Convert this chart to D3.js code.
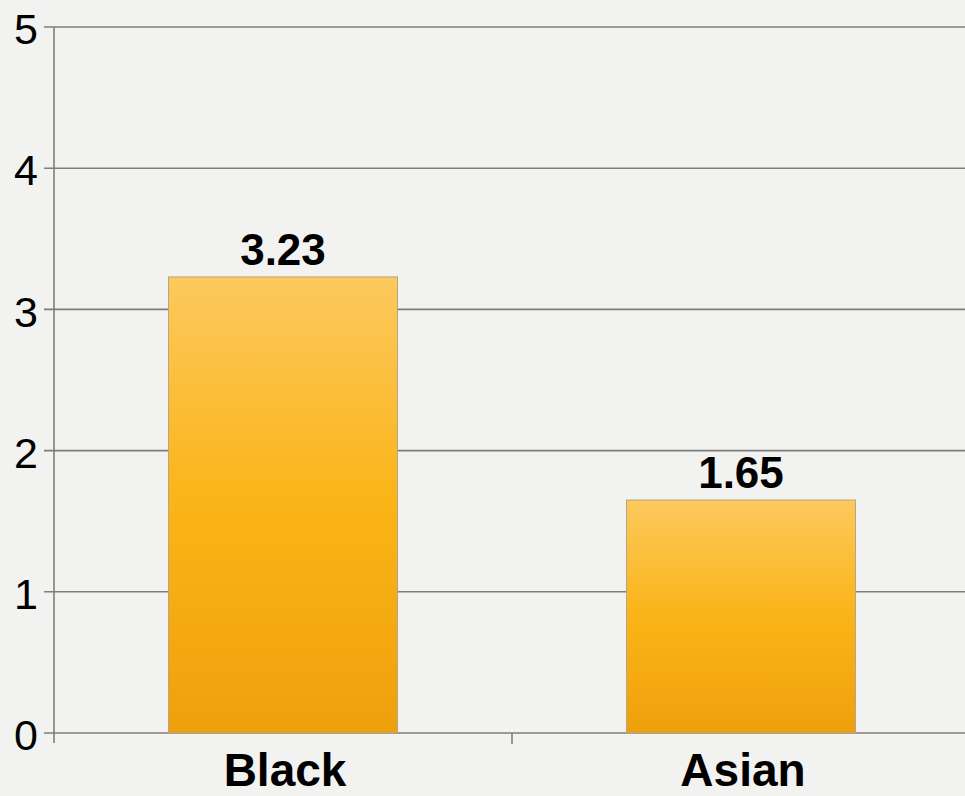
<!DOCTYPE html>
<html>
<head>
<meta charset="utf-8">
<script src="https://cdn.jsdelivr.net/npm/d3@7"></script>
<style>
  html, body { margin: 0; padding: 0; background: #f2f2f0; }
  svg { display: block; }
  text { font-family: "Liberation Sans", Arial, sans-serif; }
</style>
</head>
<body>
<div id="chart"></div>
<script>
// datos del gráfico
const categories = ["Black", "Asian"];
const values = [3.23, 1.65];
const yTicks = [0, 1, 2, 3, 4, 5];

const width = 965, height = 796;
const margin = {top: 27, right: -5, bottom: 63, left: 54};

const svg = d3.select("#chart")
    .append("svg")
    .attr("width", width)
    .attr("height", height);

const defs = svg.append("defs");
const grad = defs.append("linearGradient")
    .attr("id", "barGrad")
    .attr("x1", 0).attr("y1", 0).attr("x2", 0).attr("y2", 1);
grad.append("stop").attr("offset", "0%").attr("stop-color", "#fcc95e");
grad.append("stop").attr("offset", "50%").attr("stop-color", "#fbb417");
grad.append("stop").attr("offset", "100%").attr("stop-color", "#eea00c");

const x = d3.scaleBand()
    .domain(categories)
    .range([margin.left, width - margin.right])
    .paddingInner(0.5)
    .paddingOuter(0.25);

const y = d3.scaleLinear()
    .domain([0, 5])
    .range([height - margin.bottom, margin.top]);

// líneas de la cuadrícula
svg.append("g")
    .selectAll("line")
    .data(yTicks)
    .enter()
    .append("line")
    .attr("x1", margin.left - 10)
    .attr("x2", width)
    .attr("y1", d => y(d))
    .attr("y2", d => y(d))
    .attr("stroke", "#7d7d7d")
    .attr("stroke-width", 1.6);

// eje y
svg.append("line")
    .attr("x1", margin.left).attr("x2", margin.left)
    .attr("y1", y(5)).attr("y2", y(0) + 10)
    .attr("stroke", "#7d7d7d")
    .attr("stroke-width", 1.6);

svg.append("g")
    .selectAll("text")
    .data(yTicks)
    .enter()
    .append("text")
    .attr("x", margin.left - 16)
    .attr("y", d => y(d))
    .attr("dy", "0.4em")
    .attr("text-anchor", "end")
    .style("font-size", "43px")
    .attr("fill", "#000")
    .text(d => d);

// marcas entre categorías
svg.append("g")
    .selectAll("line")
    .data(categories.slice(1))
    .enter()
    .append("line")
    .attr("x1", d => x(d) - x.step() * x.paddingInner() / 2)
    .attr("x2", d => x(d) - x.step() * x.paddingInner() / 2)
    .attr("y1", y(0))
    .attr("y2", y(0) + 11)
    .attr("stroke", "#7d7d7d")
    .attr("stroke-width", 1.6);

// barras
svg.append("g")
    .selectAll("rect")
    .data(values)
    .enter()
    .append("rect")
    .attr("x", (d, i) => x(categories[i]))
    .attr("y", d => y(d))
    .attr("width", x.bandwidth())
    .attr("height", d => y(0) - y(d))
    .attr("fill", "url(#barGrad)")
    .attr("stroke", "#b8a584")
    .attr("stroke-width", 1);

// etiquetas de valor
svg.append("g")
    .selectAll("text")
    .data(values)
    .enter()
    .append("text")
    .attr("x", (d, i) => x(categories[i]) + x.bandwidth() / 2)
    .attr("y", d => y(d) - 12)
    .attr("text-anchor", "middle")
    .style("font-size", "44px")
    .style("font-weight", "bold")
    .attr("fill", "#000")
    .text(d => d.toFixed(2));

// etiquetas de categoría
svg.append("g")
    .selectAll("text")
    .data(categories)
    .enter()
    .append("text")
    .attr("x", d => x(d) + x.bandwidth() / 2 + 2)
    .attr("y", y(0) + 53)
    .attr("text-anchor", "middle")
    .style("font-size", "46px")
    .style("font-weight", "bold")
    .attr("fill", "#000")
    .text(d => d);
</script>
</body>
</html>
